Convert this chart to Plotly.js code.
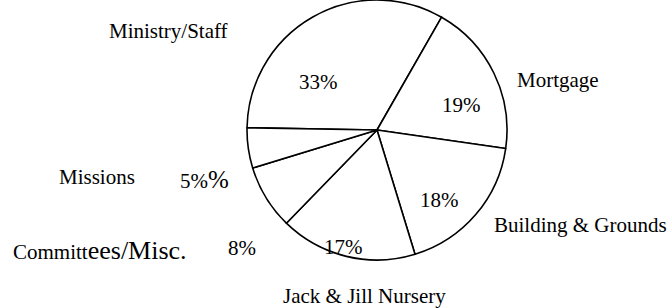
<!DOCTYPE html>
<html>
<head>
<meta charset="utf-8">
<script src="https://cdn.plot.ly/plotly-3.0.1.min.js"></script>
</head>
<body style="margin:0;background:#fff">
<div id="chart" style="width:668px;height:308px"></div>
<script>
// Data
var categories = ["Ministry/Staff", "Mortgage", "Building & Grounds", "Jack & Jill Nursery", "Committees/Misc.", "Missions"];
var shares = [33, 19, 18, 17, 8, 5];

// Label placement (pixels in the 668x308 frame) — style only
var W = 668, H = 308;
var labelPos = [[168, 31], [558, 80], [580, 225], [364, 296], [100, 250], [97, 177]];
var pctPos = [[318, 82], [462, 105], [439, 200], [343, 247], [242, 248], [204, 179]];

var cx = 377, cy = 130, R = 130;
var FONT = "Liberation Serif";
var FS = 21;

var trace = {
  type: "pie",
  labels: categories,
  values: shares,
  sort: false,
  direction: "clockwise",
  rotation: -89,
  textinfo: "none",
  hoverinfo: "label+percent",
  marker: {colors: ["#ffffff", "#ffffff", "#ffffff", "#ffffff", "#ffffff", "#ffffff"],
           line: {color: "#000000", width: 1.6}},
  domain: {x: [(cx - R) / W, (cx + R) / W], y: [1 - (cy + R) / H, 1 - (cy - R) / H]},
  showlegend: false
};

function catText(i) {
  var t = categories[i];
  if (t === "Committees/Misc.") {
    return "Committ<span style='font-size:26px'>ees/Misc.</span>";
  }
  return t;
}
function pctText(i) {
  if (i === 5) return shares[i] + "%<span style='font-size:25px'>%</span>";
  return shares[i] + "%";
}

var anns = [];
for (var i = 0; i < categories.length; i++) {
  anns.push({xref: "paper", yref: "paper", x: labelPos[i][0] / W, y: 1 - labelPos[i][1] / H,
    text: catText(i), showarrow: false, xanchor: "center", yanchor: "middle",
    font: {family: FONT, size: FS, color: "#000000"}});
  anns.push({xref: "paper", yref: "paper", x: pctPos[i][0] / W, y: 1 - pctPos[i][1] / H,
    text: pctText(i), showarrow: false, xanchor: "center", yanchor: "middle",
    font: {family: FONT, size: FS, color: "#000000"}});
}

var layout = {
  width: W, height: H,
  margin: {l: 0, r: 0, t: 0, b: 0, pad: 0},
  paper_bgcolor: "#ffffff", plot_bgcolor: "#ffffff",
  font: {family: FONT, color: "#000000"},
  showlegend: false,
  annotations: anns
};

Plotly.newPlot("chart", [trace], layout, {displayModeBar: false});
</script>
</body>
</html>
